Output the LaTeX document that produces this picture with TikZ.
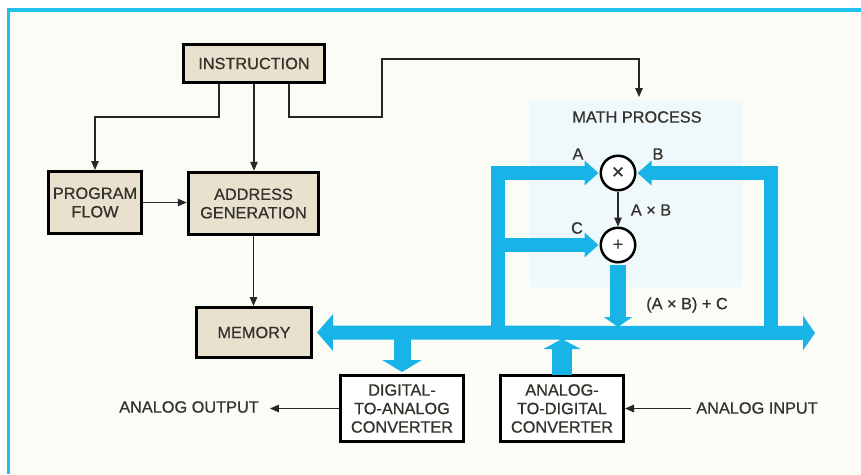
\documentclass[tikz,border=0pt]{standalone}
\usepackage{fontspec}
\setmainfont{Liberation Sans}
\newfontfamily\medfont{Liberation Sans}[FakeBold=0.7]
\usetikzlibrary{arrows.meta}
\definecolor{busblue}{HTML}{18B4E8}
\definecolor{framec}{HTML}{22C0EC}
\definecolor{beige}{HTML}{E8E1CE}
\definecolor{txt}{HTML}{35322C}
\definecolor{paleblue}{HTML}{EFF8FB}
\definecolor{bgc}{HTML}{FCFCF7}
\newcommand\bfnt{\medfont\fontsize{16.3}{18.5}\selectfont}
\tikzset{
  blk/.style={draw=black, line width=3pt, fill=beige, align=center, inner sep=0pt, font=\bfnt, text=txt},
  wblk/.style={blk, fill=white},
  thinarr/.style={draw=black!85, line width=1.1pt, -{Triangle[length=9pt,width=7.5pt]}},
  bus/.style={draw=busblue, line width=14pt, line join=miter},
  lbl/.style={font=\bfnt, text=txt, inner sep=0pt},
  op/.style={circle, draw=black, line width=2.5pt, fill=white, minimum size=34.5pt, inner sep=0pt, text=txt}
}
\begin{document}
\begin{tikzpicture}[x=1pt,y=-1pt]
\useasboundingbox (0,0) rectangle (861,474);
\fill[white] (0,0) rectangle (861,474);
\fill[bgc] (8.5,10) rectangle (861,474);
\draw[framec, line width=3.5pt] (861,10) -- (8.5,10) -- (8.5,474);
\fill[paleblue] (530,100) rectangle (742,287);

% blocks
\node[blk, minimum width=141pt, minimum height=38pt] (instr) at (254,63.5) {INSTRUCTION};
\node[blk, minimum width=93pt, minimum height=62pt] (pflow) at (95,202.5) {PROGRAM\\FLOW};
\node[blk, line width=3.5pt, minimum width=130pt, minimum height=62pt] (addr) at (253.5,203.5) {ADDRESS\\GENERATION};
\node[blk, minimum width=115pt, minimum height=50pt] (mem) at (254,332.5) {MEMORY};
\node[wblk, minimum width=123pt, minimum height=66pt] (dac) at (402,408.5) {DIGITAL-\\TO-ANALOG\\CONVERTER};
\node[wblk, minimum width=123pt, minimum height=66pt] (adc) at (562,408.5) {ANALOG-\\TO-DIGITAL\\CONVERTER};

\node[op, font=\medfont\fontsize{21}{21}\selectfont] (mul) at (618,173) {×};
\node[op, font=\medfont\fontsize{18}{18}\selectfont] (add) at (618,245) {+};

% labels
\node[lbl] (mathlbl) at (637,117) {MATH PROCESS};
\node[lbl] (la) at (578,154) {A};
\node[lbl] (lb) at (658,154) {B};
\node[lbl] (lc) at (577,228) {C};
\node[lbl] (lab) at (651,210) {A × B};
\node[lbl] (labc) at (687,305) {(A × B) + C};
\node[lbl, inner xsep=11pt] (aout) at (189,407) {ANALOG OUTPUT};
\node[lbl, inner xsep=5pt] (ain) at (757,408) {ANALOG INPUT};

% coordinates
\coordinate (lv) at (498,333);
\coordinate (rv) at (771,333);
\coordinate (busend) at (815,333);
\coordinate (bustop) at (0,327);
\coordinate (busbot) at (0,339);
\coordinate (busmid) at (0,333);
\coordinate (mpc) at (639,59);
\coordinate (mpin) at (639,97);

% thin connectors
\draw[thinarr] ([xshift=-35pt]instr.south) -- ++(0,33) -| (pflow.north);
\draw[thinarr] (instr.south) -- (instr.south |- addr.north);
\draw[thinarr] ([xshift=35pt]instr.south) -- ++(0,33) -- ++(93,0) |- (mpc) -- (mpin);
\draw[thinarr] (pflow.east) -- (pflow.east -| addr.west);
\draw[thinarr] (addr.south) -- (addr.south |- mem.north);
\draw[thinarr] (mul.south) -- (add.north);
\draw[thinarr] (dac.west) -- (dac.west -| aout.east);
\draw[thinarr] (ain.west |- adc.east) -- (adc.east);

% buses
\draw[bus] (lv) -- (lv |- mul.west);
\draw[bus] (rv) -- (rv |- mul.east);
\draw[bus, -{Triangle[length=14pt,width=24pt]}] ([xshift=-7pt]lv |- mul.west) -- ([xshift=-1pt]mul.west);
\draw[bus, -{Triangle[length=14pt,width=24pt]}] ([xshift=7pt]rv |- mul.east) -- ([xshift=1pt]mul.east);
\draw[bus, -{Triangle[length=14pt,width=24pt]}] (lv |- add.west) -- ([xshift=-1pt]add.west);
\draw[bus, line width=16pt, -{Triangle[length=10pt,width=28pt]}] ([yshift=-1pt]add.south) -- (add.south |- bustop);
\draw[bus, {Triangle[length=16pt,width=36pt]}-{Triangle[length=12pt,width=34pt]}] ([xshift=4pt]mem.east) -- (busend);
\draw[bus, line width=17pt, -{Triangle[length=12pt,width=39pt]}] (dac.north |- busmid) -- ([yshift=2pt]dac.north);
\draw[bus, line width=20pt, -{Triangle[length=10pt,width=37pt]}] ([yshift=-1pt]adc.north) -- (adc.north |- busbot);
\end{tikzpicture}
\end{document}
